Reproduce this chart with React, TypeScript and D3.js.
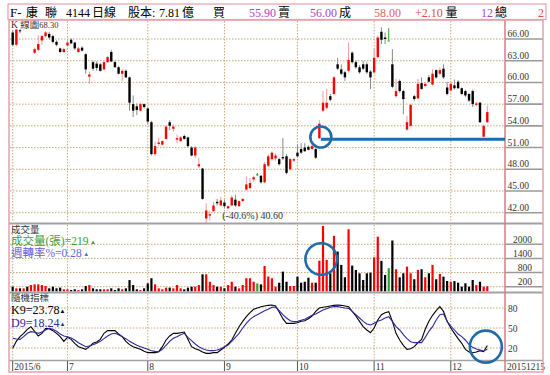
import React from 'react';
import * as d3 from 'd3';

// daily candles, 2015/6 .. 2015/12/15
const opens = [66.9, 65.2, 67.2, 67.4, 67.9, 67.6, 64.1, 64.5, 65.8, 66.4, 66.7, 66.4, 65.6, 64.7, 64.2,
  65.1, 65.9, 65.5, 64.2, 64.8, 63.9, 60.8, 62.8, 62.6, 62.5, 61.8, 62.8, 64.2, 62.8, 62.1, 61.2, 61.6, 60.7, 57.0, 56.7, 56.1, 57.0,
  56.4, 54.5, 50.1, 51.5, 51.4, 52.2, 54.5, 53.6, 52.1, 51.9, 52.6, 52.4, 51.0, 49.9, 48.4, 48.1, 41.2, 41.6, 42.2, 43.5, 43.0,
  43.4, 42.6, 43.0, 43.8, 42.9, 43.6, 45.2, 45.4, 46.6, 47.3, 47.1, 46.2, 48.5, 49.4, 49.5, 49.4, 49.7, 49.8, 48.0, 49.2,
  50.3, 50.8, 51.0, 51.1, 50.8, 50.8, 52.3, 56.1, 56.5, 58.1, 58.4, 62.5, 61.8, 61.4, 61.6, 64.1, 62.8, 62.1, 62.5, 62.5, 61.5,
  61.4, 63.5, 67.0, 66.2, 65.8, 62.5, 58.1, 60.2, 58.8, 53.5, 54.0, 58.1, 57.8, 59.9, 59.5, 60.7, 59.7, 61.7, 61.2, 61.9, 59.3,
  58.9, 59.6, 60.1, 59.2, 58.8, 58.4, 58.8, 56.9, 57.2, 52.5, 54.5];
const highs = [67.2, 68.3, 67.8, 68.2, 68.1, 68.0, 64.8, 66.5, 66.6, 67.1, 67.0, 66.6, 65.8, 64.8, 64.8,
  65.8, 66.1, 65.6, 64.9, 65.0, 64.0, 61.5, 63.0, 62.9, 62.7, 62.9, 63.7, 64.5, 63.0, 62.3, 61.8, 61.8, 60.8, 58.2, 57.1, 57.2, 57.1,
  56.6, 54.7, 51.8, 52.4, 52.0, 54.0, 54.8, 54.2, 52.8, 52.6, 52.8, 52.5, 51.2, 51.2, 49.6, 48.2, 43.3, 42.2, 43.5, 43.9, 44.2,
  43.8, 43.0, 44.4, 44.5, 43.7, 44.0, 47.0, 46.8, 47.1, 47.5, 47.2, 49.0, 50.0, 50.5, 50.2, 49.6, 52.3, 50.1, 49.6, 49.6,
  51.5, 51.6, 51.6, 51.3, 51.9, 51.0, 54.8, 58.8, 59.1, 58.4, 60.9, 63.4, 62.5, 61.6, 65.5, 64.3, 63.0, 62.4, 63.0, 62.8, 61.7,
  64.6, 66.5, 67.6, 66.9, 67.5, 64.6, 60.5, 60.4, 59.0, 55.4, 57.0, 58.3, 60.5, 60.7, 60.0, 61.0, 61.8, 61.8, 62.1, 62.5, 60.1,
  60.0, 60.4, 60.3, 59.3, 59.0, 58.5, 59.0, 57.3, 57.3, 54.2, 56.8];
const lows = [65.0, 65.0, 66.8, 67.3, 67.4, 67.4, 63.9, 64.3, 65.2, 66.2, 65.9, 65.4, 65.0, 64.1, 64.1,
  65.0, 65.3, 64.5, 64.1, 64.3, 61.2, 59.8, 61.6, 61.6, 61.5, 61.7, 62.7, 62.8, 62.0, 61.1, 60.2, 60.6, 56.1, 55.2, 55.5, 56.0, 56.4,
  54.2, 49.9, 49.9, 51.2, 51.3, 52.1, 53.4, 53.2, 51.6, 51.8, 52.1, 51.0, 49.8, 49.5, 48.2, 43.8, 40.6, 40.9, 42.1, 43.0, 42.9,
  42.6, 42.5, 42.9, 42.8, 42.8, 43.5, 45.0, 45.2, 46.3, 47.1, 46.0, 46.1, 48.3, 49.2, 49.2, 48.5, 49.3, 47.3, 47.8, 49.0,
  49.6, 50.1, 50.4, 50.6, 50.7, 49.4, 52.2, 55.9, 56.3, 57.4, 58.3, 61.7, 61.0, 60.2, 61.4, 62.6, 61.9, 61.2, 61.7, 61.2, 59.1,
  61.2, 63.3, 65.3, 65.3, 65.8, 59.2, 57.9, 58.6, 55.6, 53.3, 53.9, 57.4, 57.7, 59.0, 59.3, 60.0, 59.6, 60.5, 61.0, 60.5, 58.2,
  58.8, 59.0, 59.1, 58.3, 58.0, 57.3, 56.6, 56.7, 54.4, 52.4, 54.4];
const closes = [65.2, 67.3, 67.1, 67.9, 67.6, 67.8, 64.6, 65.3, 66.4, 66.9, 66.2, 65.6, 65.2, 64.2, 64.6,
  65.5, 65.4, 64.7, 64.7, 64.4, 61.8, 61.1, 61.9, 62.0, 61.6, 62.8, 63.5, 62.9, 62.1, 61.2, 61.6, 60.7, 57.2, 56.1, 56.2, 57.0, 56.6,
  54.6, 50.1, 51.2, 51.7, 51.9, 53.9, 54.0, 53.9, 52.3, 52.4, 52.2, 51.2, 49.9, 51.0, 48.7, 43.9, 42.3, 41.8, 43.0, 43.3, 43.7,
  42.9, 42.9, 44.1, 43.0, 43.6, 43.9, 45.9, 46.1, 46.9, 47.3, 46.2, 48.7, 49.8, 50.3, 49.9, 48.7, 49.5, 47.5, 49.4, 49.4,
  49.8, 50.3, 50.5, 50.7, 51.2, 49.6, 54.3, 57.2, 57.2, 57.6, 60.7, 61.9, 61.2, 60.7, 63.1, 62.8, 62.1, 61.4, 61.9, 61.4, 60.7,
  63.4, 66.2, 65.9, 66.0, 65.8, 59.4, 58.8, 58.8, 57.7, 54.5, 56.9, 57.7, 59.8, 59.1, 59.8, 60.1, 61.2, 60.7, 61.7, 60.7, 58.4,
  59.8, 59.2, 59.2, 58.4, 58.2, 57.5, 57.0, 57.1, 54.5, 54.0, 55.9];

// 成交量 (張)
const volumes = [200, 130, 130, 130, 200, 270, 300, 300, 270, 230, 130, 200, 130, 160, 90,
  90, 60, 90, 60, 90, 230, 270, 130, 90, 90, 90, 90, 130, 60, 130, 90, 130, 480, 270, 90, 60, 130,
  340, 560, 300, 130, 90, 160, 160, 130, 270, 130, 90, 160, 200, 200, 270, 725, 725, 410, 270, 200, 200,
  130, 270, 410, 200, 130, 270, 560, 560, 410, 340, 300, 1080, 630, 560, 200, 370, 840, 410, 230, 230,
  625, 370, 410, 580, 370, 370, 1305, 2780, 1335, 770, 2360, 1690, 1125, 600, 2640, 1095, 910, 770, 485, 770, 795,
  1450, 2325, 1295, 700, 985, 2160, 940, 600, 770, 1050, 770, 515, 910, 940, 600, 770, 1125, 515, 740, 625, 440,
  410, 440, 370, 200, 345, 200, 485, 270, 410, 200, 219];

// 隨機指標 K9 / D9
const kValues = [19.5, 30, 37, 42, 48, 52, 45, 38, 42, 49, 49, 46, 42, 37, 30,
  36, 33, 27, 22, 20, 18, 22, 27, 29, 33, 42, 46, 46, 46, 41, 37, 30, 25, 22, 20, 18, 15,
  13, 13, 13, 14.5, 22, 32, 38, 42, 42, 43, 44, 33, 22, 19, 17, 14, 12, 12, 13, 13, 17,
  21, 26, 32, 42, 52, 60, 67, 73, 78, 80, 82, 83, 84, 84.5, 83, 74, 64, 57, 57, 57,
  58, 60, 61, 64, 68, 75, 80, 81, 82, 83, 84, 84.5, 84, 83, 82, 75, 68, 60, 52, 47, 43,
  50, 62, 70, 73, 74.5, 60, 42, 32, 24, 18, 19, 22, 28, 33, 48, 60, 69, 76, 82, 75, 60,
  50, 42, 34, 27, 18, 14, 13, 14, 16, 14.5, 23.78];
const dValues = [34.5, 33.5, 33, 37, 42, 44.5, 43.5, 42, 44, 47, 49.5, 48, 45, 41, 38,
  37, 35, 32, 28, 25, 22, 23, 25, 27, 30, 34, 38, 41, 42, 40, 37, 34, 30, 27, 24, 22, 20,
  18, 16, 15, 14.5, 18, 24, 30, 34.5, 37, 40, 42, 36, 31, 26, 22, 19, 17, 16, 16, 17, 19,
  22, 24.5, 30, 36, 42, 50, 57, 63, 67, 70, 73, 76, 78, 81, 81.5, 76, 70, 65, 61, 59.5,
  60, 61.5, 63, 66, 69, 71, 74, 77, 79, 81, 82, 82, 81, 80, 79.5, 75, 70, 65, 60, 56, 54.5,
  57, 60, 62, 65, 67, 60, 52, 47, 40, 34, 29.5, 28, 28, 28, 36, 45, 52, 62, 70, 71, 60,
  53, 47, 41, 37, 32, 25, 21, 18.5, 17, 15.5, 18.24];

const monthStarts = [0, 15, 37, 58, 78, 99, 120];
const monthLabels = ['2015/6', '7', '8', '9', '10', '11', '12'];
const priceTicks = [42, 45, 48, 51, 54, 57, 60, 63, 66];
const volumeTicks = [200, 800, 1400, 2000];
const kdTicks = [20, 50, 80];

const priceHigh = 68.3;
const lowIndex = 53;
const lowText = '(-40.6%) 40.60';
const supportLevel = 52.15;
// annotation circles
const priceMark = { index: 84.4, value: 52.45 };
const volumeMark = { index: 84.5, value: 1376 };
const kdMark = { index: 129.6, value: 22 };

const SERIF = "'Liberation Serif', 'DejaVu Serif', 'Noto Sans CJK TC', serif";
const GRID = '#c8a878';
const PINK = '#e6a0aa';
const BLUE = '#1f6cab';

const colorOf = (i: number) =>
  closes[i] > opens[i] ? '#ff0000' : closes[i] < opens[i] ? '#000000' : '#2ea02e';
const wickOf = (i: number) =>
  closes[i] > opens[i] ? '#f39a9a' : closes[i] < opens[i] ? '#8a8a8a' : '#2ea02e';

const App: React.FC = () => {
  const n = closes.length;
  const x = d3.scaleLinear().domain([0, n - 1]).range([12.7, 487.3]);
  const yP = d3.scaleLinear().domain([42, 66]).range([212.7, 39]);
  const yV = d3.scaleLinear().domain([0, 2000]).range([291.4, 244.3]);
  const yK = d3.scaleLinear().domain([20, 80]).range([348, 308]);
  const fmt = d3.format('.2f');

  const kdLine = d3.line<number>().x((_, i) => x(i)).y(d => yK(d));
  const bw = 2.4;

  // text, x, colour, font size
  const header: [string, number, string, number][] = [
    ['F-', 10, '#000', 13], ['康', 26, '#000', 12], ['聯', 45, '#000', 12],
    ['4144', 66, '#000', 12], ['日線', 92, '#000', 12], ['股本:', 128, '#000', 12],
    ['7.81', 159, '#000', 12], ['億', 182, '#000', 12], ['買', 213, '#000', 12],
    ['55.90', 249, '#a848c8', 12], ['賣', 278, '#000', 12],
    ['56.00', 310, '#a848c8', 12], ['成', 339, '#000', 12],
    ['58.00', 374, '#e06464', 12], ['+2.10', 415, '#e04848', 12], ['量', 445.5, '#000', 12],
    ['12', 481, '#a848c8', 12], ['總', 495, '#000', 12], ['2', 538, '#e04848', 12],
  ];

  return (
    <svg width={550} height={375} style={{ position: 'absolute', left: 0, top: 0, background: '#fff' }}
      fontFamily={SERIF}>
      {/* title bar */}
      <rect x={8} y={4} width={538} height={15.5} fill="#fff" stroke={PINK} strokeWidth={1.2} />
      {header.map(([t, hx, c, fs], k) => (
        <text key={k} x={hx} y={16.5} fontSize={fs} fill={c}>{t}</text>
      ))}

      {/* grid */}
      <g stroke={GRID} strokeWidth={1} strokeDasharray="1.5 1.5">
        {priceTicks.map(t => <line key={'p' + t} x1={10} x2={505} y1={yP(t)} y2={yP(t)} />)}
        {volumeTicks.map(t => <line key={'v' + t} x1={10} x2={505} y1={yV(t)} y2={yV(t)} />)}
        {kdTicks.map(t => <line key={'k' + t} x1={10} x2={505} y1={yK(t)} y2={yK(t)} />)}
        {monthStarts.map(m => (
          <g key={'m' + m}>
            <line x1={x(m)} x2={x(m)} y1={21} y2={222} />
            <line x1={x(m)} x2={x(m)} y1={225} y2={291} />
            <line x1={x(m)} x2={x(m)} y1={294} y2={360} />
          </g>
        ))}
      </g>

      {/* candles */}
      {closes.map((c, i) => {
        const top = yP(Math.max(opens[i], c));
        const h = Math.max(1, Math.abs(yP(opens[i]) - yP(c)));
        return (
          <g key={'c' + i}>
            <line x1={x(i)} x2={x(i)} y1={yP(highs[i])} y2={yP(lows[i])} stroke={wickOf(i)} strokeWidth={1} />
            <rect x={x(i) - bw / 2} y={top} width={bw} height={h} fill={colorOf(i)} />
          </g>
        );
      })}

      {/* price panel labels */}
      <rect x={10} y={21} width={35} height={8} fill="#fff" />
      <text x={11} y={28} fontSize={9.5} fill="#333">K 線圖<tspan fontSize={8.5}>{fmt(priceHigh)}</tspan></text>
      <text x={x(lowIndex) + 16} y={219} fontSize={10} fill="#333">{lowText}</text>

      {/* volume */}
      {volumes.map((v, i) => (
        <rect key={'v' + i} x={x(i) - 1.1} y={yV(v)} width={2.2} height={yV(0) - yV(v)} fill={colorOf(i)} />
      ))}
      <text x={11} y={233} fontSize={9.5} fill="#333">成交量</text>
      <text x={11} y={244.5} fontSize={11.5} fill="#3a9e3a">成交量(張)={volumes[n - 1]}<tspan fontSize={6} dy={-1}> ▲</tspan></text>
      <text x={11} y={256.5} fontSize={11.5} fill="#6464d8">週轉率%=0.28<tspan fontSize={6} dy={-1}> ▲</tspan></text>

      {/* KD */}
      <path d={kdLine(kValues) ?? ''} fill="none" stroke="#000" strokeWidth={1.1} />
      <path d={kdLine(dValues) ?? ''} fill="none" stroke="#2a2aa0" strokeWidth={1.1} />
      <text x={11} y={301} fontSize={9.5} fill="#333">隨機指標</text>
      <text x={11} y={314} fontSize={12} fill="#000">K9={fmt(kValues[n - 1])}<tspan fontSize={6} dy={-1}>▲</tspan></text>
      <text x={11} y={326.5} fontSize={12} fill="#2a2aa0">D9={fmt(dValues[n - 1])}<tspan fontSize={6} dy={-1}>▲</tspan></text>

      {/* right axis */}
      <g stroke="#9a9a9a" strokeWidth={1.6}>
        {priceTicks.map(t => <line key={'rp' + t} x1={505} x2={543} y1={yP(t)} y2={yP(t)} />)}
        {volumeTicks.map(t => <line key={'rv' + t} x1={505} x2={543} y1={yV(t)} y2={yV(t)} />)}
      </g>
      <g fontSize={9.5} fill="#333">
        {priceTicks.map(t => <text key={'tp' + t} x={507.5} y={yP(t) - 2}>{fmt(t)}</text>)}
        {volumeTicks.map(t => <text key={'tv' + t} x={532} y={yV(t) - 1.5} textAnchor="end">{t}</text>)}
        {kdTicks.map(t => <text key={'tk' + t} x={508} y={yK(t) + 3.5}>{t}</text>)}
        <text x={507} y={369.5}>20151215</text>
      </g>

      {/* panel separators */}
      <g stroke="#a2a2a2">
        <line x1={9} x2={543} y1={223.5} y2={223.5} strokeWidth={2} />
        <line x1={9} x2={543} y1={292.5} y2={292.5} strokeWidth={2} />
        <line x1={9} x2={543} y1={360.5} y2={360.5} strokeWidth={1.5} />
      </g>

      {/* x axis */}
      {monthStarts.map((m, k) => (
        <g key={'xa' + m}>
          <line x1={x(m)} x2={x(m)} y1={361} y2={371} stroke="#555" strokeWidth={1} />
          <text x={x(m) + 1.5} y={369.5} fontSize={9.5} fill="#333">{monthLabels[k]}</text>
        </g>
      ))}

      {/* frame */}
      <line x1={505} x2={505} y1={20} y2={372} stroke="#d87884" strokeWidth={1.5} />
      <rect x={9} y={20} width={534} height={352} fill="none" stroke={PINK} strokeWidth={1.5} />

      {/* annotations */}
      <line x1={x(priceMark.index)} x2={505} y1={yP(supportLevel)} y2={yP(supportLevel)} stroke={BLUE} strokeWidth={3} />
      <circle cx={x(priceMark.index)} cy={yP(priceMark.value)} r={10.5} fill="none" stroke={BLUE} strokeWidth={2.6} />
      <circle cx={x(volumeMark.index)} cy={yV(volumeMark.value)} r={15.8} fill="none" stroke={BLUE} strokeWidth={2.6} />
      <circle cx={x(kdMark.index)} cy={yK(kdMark.value)} r={16} fill="none" stroke={BLUE} strokeWidth={2.6} />
    </svg>
  );
};

export default App;
